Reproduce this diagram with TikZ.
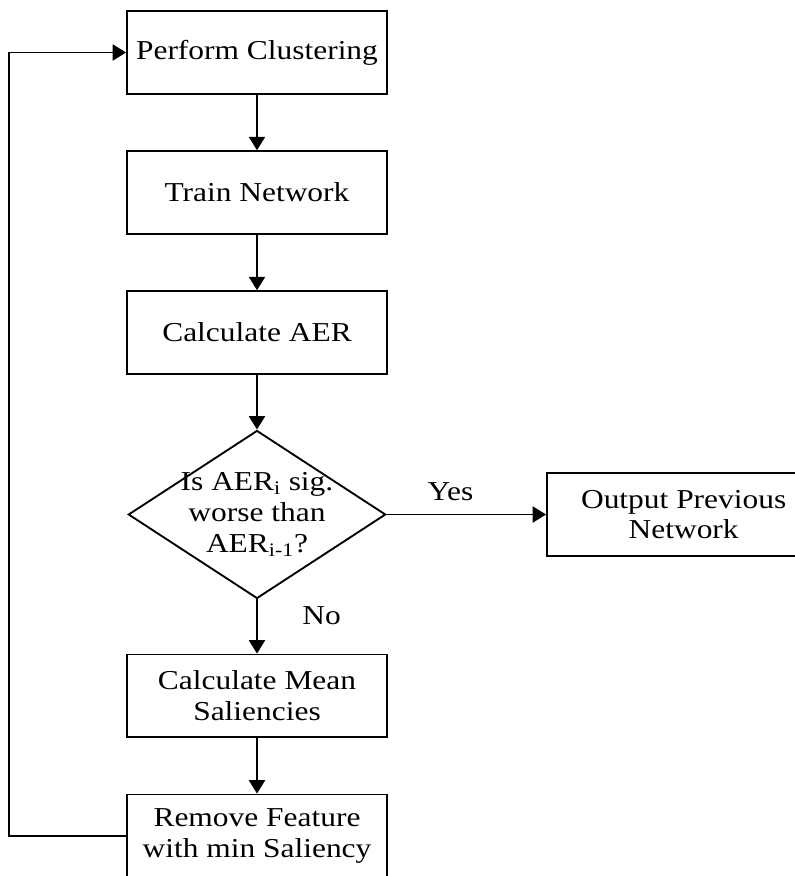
\documentclass[tikz,border=0pt]{standalone}
\usepackage{fontspec}
\setmainfont{Liberation Serif}[FakeStretch=1.15]
\usetikzlibrary{shapes.geometric, arrows.meta}

\begin{document}
\begin{tikzpicture}[x=0.75pt, y=0.75pt, node distance=105pt, >={Triangle[width=12pt, length=10pt]}, line width=1.4pt, font=\fontsize{20.5}{23}\selectfont, block/.style={rectangle, draw, minimum width=195pt, minimum height=62pt, align=center, inner sep=2pt}, decision/.style={diamond, draw, minimum width=193pt, minimum height=126pt, inner sep=0pt}]

  \useasboundingbox (0,0) rectangle (794,-876);

  \node[block] (cluster) at (257,-52.5) {Perform Clustering};
  \node[block, below of=cluster] (train) {Train Network};
  \node[block, below of=train] (aer) {Calculate AER};
  \node[decision, below of=aer, node distance=136.5pt, label={[align=center]center:Is AER\textsubscript{i} sig.\\worse than\\AER\textsubscript{i-1}?}] (test) {};
  \node[block, right of=test, node distance=320pt, minimum width=205pt] (output) {Output Previous\\Network};
  \node[block, below of=test, node distance=136pt] (mean) {Calculate Mean\\Saliencies};
  \node[block, below of=mean] (remove) {Remove Feature\\with min Saliency};

  \node[coordinate, left of=remove, node distance=186pt] (back) {};

  \draw[->] (cluster) -- (train);
  \draw[->] (train) -- (aer);
  \draw[->] (aer) -- (test);
  \draw[->] (test) -- node[above, pos=0.4, yshift=6pt] {Yes} (output);
  \draw[->] (test) -- node[right, pos=0.3, xshift=30pt] {No} (mean);
  \draw[->] (mean) -- (remove);
  \draw[->] (remove) -- (back) |- (cluster);
\end{tikzpicture}
\end{document}
